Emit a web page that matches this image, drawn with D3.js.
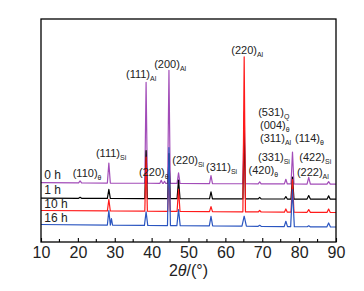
<!DOCTYPE html>
<html>
<head>
<meta charset="utf-8">
<script src="https://cdn.jsdelivr.net/npm/d3@7"></script>
<style>
  html, body { margin: 0; padding: 0; background: #fff; }
  svg { display: block; font-family: "Liberation Sans", Arial, sans-serif; }
</style>
</head>
<body>
<div id="chart"></div>
<script>
// XRD patterns, 2theta in degrees, intensity in a.u. (stacked)
const xTicks = [10, 20, 30, 40, 50, 60, 70, 80, 90];
const xMinorTicks = [15, 25, 35, 45, 55, 65, 75, 85];

const seriesNames = ["0 h", "1 h", "10 h", "16 h"];
const seriesColors = ["#a24cb8", "#000000", "#ff1a1a", "#2a55c0"];
// stacking offsets (baseline at 10 deg and at 90 deg)
const baseStart = [59.3, 43.8, 31.5, 17.5];
const baseEnd = [57.8, 42.8, 29.5, 15.0];

// peaks: [2theta, height above baseline, half width]
const peaks0h = [
  [20.6, 2, 0.4], [28.4, 20, 0.4], [38.5, 101, 0.35], [42.6, 3, 0.35], [43.5, 2, 0.3],
  [44.7, 113, 0.35], [47.3, 10.5, 0.4], [56.1, 8, 0.4], [65.1, 72, 0.35], [69.3, 2, 0.4],
  [76.4, 4.7, 0.4], [78.2, 32, 0.4], [82.6, 6.7, 0.45], [88.0, 2.5, 0.45]
];
const peaks1h = [
  [20.6, 1, 0.4], [28.4, 9, 0.4], [38.5, 48, 0.35], [44.7, 45, 0.35], [47.3, 18.5, 0.4],
  [56.1, 7, 0.4], [65.1, 69, 0.35], [69.3, 1.5, 0.4], [76.4, 2.5, 0.4], [78.2, 22, 0.4],
  [82.6, 3.5, 0.45], [88.0, 3.3, 0.45]
];
const peaks10h = [
  [28.4, 11.5, 0.4], [38.5, 54, 0.35], [44.7, 40, 0.35], [47.3, 22, 0.4], [56.1, 5, 0.4],
  [65.1, 155, 0.35], [69.3, 1.5, 0.4], [76.4, 3.2, 0.4], [78.2, 32.5, 0.4], [82.6, 2.7, 0.45],
  [88.0, 3.4, 0.45]
];
const peaks16h = [
  [28.4, 14.5, 0.4], [29.1, 6.5, 0.3], [38.5, 13.5, 0.45], [44.7, 78, 0.4], [47.3, 16, 0.45],
  [56.1, 9.5, 0.45], [65.1, 10, 0.6], [69.3, 1, 0.4], [76.4, 5.3, 0.45], [78.2, 37, 0.5],
  [82.6, 1, 0.4], [88.0, 4, 0.5]
];
const allPeaks = [peaks0h, peaks1h, peaks10h, peaks16h];

// peak labels: main text, subscript, anchor (2theta, intensity)
const labelText = ["(111)", "(110)", "(111)", "(200)", "(220)", "(220)", "(311)", "(220)",
  "(420)", "(331)", "(531)", "(004)", "(311)", "(114)", "(422)", "(222)"];
const labelSub = ["Si", "θ", "Al", "Al", "θ", "Si", "Si", "Al",
  "θ", "Si", "Q", "θ", "Al", "θ", "Si", "Al"];
const labelX = [24.9, 18.6, 33.05, 40.7, 36.6, 45.6, 54.75, 61.6,
  66.3, 68.85, 68.9, 69.4, 69.4, 78.9, 80.05, 79.4];
const labelY = [84.7, 65.3, 163.7, 173.7, 66, 77.7, 71.3, 188,
  67.7, 81.3, 126, 113.5, 100.5, 100.5, 81.3, 66.3];

const seriesLabelX = 10.9;
const seriesLabelY = [63, 47.7, 34.3, 19.7];

const W = 364, H = 291;
const margin = { top: 19, right: 28, bottom: 49, left: 41 };

const svg = d3.select("#chart").append("svg").attr("width", W).attr("height", H);

const x = d3.scaleLinear().domain([10, 90]).range([margin.left, W - margin.right]);
const y = d3.scaleLinear().domain([0, 223]).range([H - margin.bottom, margin.top]);

function baseAt(i, t) {
  return baseStart[i] + (baseEnd[i] - baseStart[i]) * (t - 10) / 80;
}
function profile(i) {
  const pts = [[10, baseAt(i, 10)]];
  allPeaks[i].forEach(([p, h, w]) => {
    pts.push([p - w, baseAt(i, p - w)]);
    pts.push([p, baseAt(i, p) + h]);
    pts.push([p + w, baseAt(i, p + w)]);
  });
  pts.push([90, baseAt(i, 90)]);
  return pts;
}

const line = d3.line().x(d => x(d[0])).y(d => y(d[1]));

const gLines = svg.append("g");
seriesNames.forEach((name, i) => {
  gLines.append("path")
    .attr("d", line(profile(i)))
    .attr("fill", "none")
    .attr("stroke", seriesColors[i])
    .attr("stroke-width", 1.2)
    .attr("stroke-linejoin", "round");
});

// frame
svg.append("rect")
  .attr("x", x(10)).attr("y", y(223))
  .attr("width", x(90) - x(10)).attr("height", y(0) - y(223))
  .attr("fill", "none").attr("stroke", "#000").attr("stroke-width", 1.3);

// bottom axis, inward ticks
const gx = svg.append("g").attr("transform", `translate(0,${y(0)})`);
gx.call(d3.axisBottom(x).tickValues(xTicks).tickSizeInner(-4).tickSizeOuter(0).tickPadding(5));
gx.select(".domain").remove();
gx.selectAll("text").attr("font-size", 16).attr("fill", "#222").attr("font-family", "Liberation Sans, Arial, sans-serif");
gx.selectAll("line").attr("stroke-width", 1.1);
gx.selectAll(".minor").data(xMinorTicks).enter().append("line")
  .attr("x1", d => x(d)).attr("x2", d => x(d)).attr("y1", 0).attr("y2", -3)
  .attr("stroke", "#000").attr("stroke-width", 1.1);

svg.append("text")
  .attr("x", (x(10) + x(90)) / 2).attr("y", 276)
  .attr("text-anchor", "middle").attr("font-size", 16).attr("fill", "#222")
  .html('2<tspan font-style="italic">θ</tspan>/(°)');

// peak labels
labelText.forEach((t, i) => {
  const tx = svg.append("text")
    .attr("x", x(labelX[i])).attr("y", y(labelY[i]))
    .attr("font-size", 11).attr("fill", "#222");
  tx.append("tspan").text(t);
  tx.append("tspan").attr("font-size", 7).attr("dy", 3).text(labelSub[i]);
});

// series labels
seriesNames.forEach((name, i) => {
  svg.append("text")
    .attr("x", x(seriesLabelX)).attr("y", y(seriesLabelY[i]))
    .attr("font-size", 12).attr("fill", "#222")
    .text(name);
});
</script>
</body>
</html>
